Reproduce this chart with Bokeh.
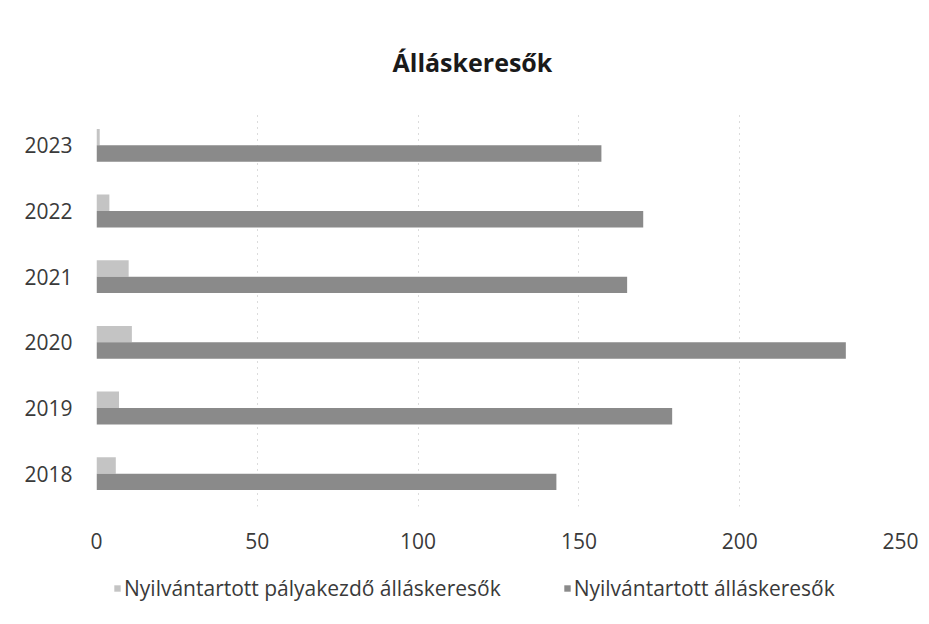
from bokeh.plotting import figure
from bokeh.layouts import column
from bokeh.models import FactorRange, Range1d, Legend, LegendItem, Title, FixedTicker, ColumnDataSource
from bokeh.transform import dodge
from bokeh.embed import file_html
from bokeh.resources import INLINE

years = ["2018", "2019", "2020", "2021", "2022", "2023"]
palyakezdo = [6, 7, 11, 10, 4, 1]
allaskereso = [143, 179, 233, 165, 170, 157]
x_ticks = [0, 50, 100, 150, 200, 250]
series_names = ["Nyilvántartott pályakezdő álláskeresők", "Nyilvántartott álláskeresők"]
title_text = "Álláskeresők"

FONT = "Open Sans"
TXT = "#3a3a3a"
PALE = "#c4c4c4"
DARK = "#8a8a8a"

src = ColumnDataSource(dict(year=years, pale=palyakezdo, main=allaskereso))

p = figure(width=921, height=558, output_backend="svg", toolbar_location=None,
           y_range=FactorRange(factors=years, range_padding=0),
           x_range=Range1d(0, 250),
           min_border_left=96, min_border_right=21, min_border_top=112, min_border_bottom=52)

p.title = Title(text=title_text, align="left", offset=296, text_font=FONT, text_font_size="25px",
                text_font_style="bold", text_color="#1a1a1a", standoff=68)

p.hbar(y=dodge("year", 0.125, range=p.y_range), right="pale", left=0, height=0.25,
       source=src, fill_color=PALE, line_color=None)
p.hbar(y=dodge("year", -0.125, range=p.y_range), right="main", left=0, height=0.25,
       source=src, fill_color=DARK, line_color=None)

p.xaxis.ticker = FixedTicker(ticks=x_ticks)
for ax in (p.xaxis[0], p.yaxis[0]):
    ax.axis_line_color = None
    ax.major_tick_line_color = None
    ax.minor_tick_line_color = None
    ax.major_label_text_font = FONT
    ax.major_label_text_font_size = "21px"
    ax.major_label_text_color = TXT
p.xaxis.major_label_standoff = 20
p.yaxis.major_label_standoff = 18

p.ygrid.grid_line_color = None
p.xgrid.grid_line_color = "#b8b8b8"
p.xgrid.grid_line_dash = "1 5"
p.xgrid.grid_line_width = 1
p.outline_line_color = None

# legend strip: its own figure; its renderers are hidden so only the legend shows
q = figure(width=921, height=55, output_backend="svg", toolbar_location=None,
           x_range=Range1d(0, 250), y_range=FactorRange(factors=years),
           x_axis_location=None, y_axis_location=None,
           min_border_left=0, min_border_right=0, min_border_top=0, min_border_bottom=0)
q.grid.visible = False
q.outline_line_color = None
lp = q.hbar(y="year", right="pale", left=0, height=0.25, source=src, fill_color=PALE, line_color=None)
lm = q.hbar(y="year", right="main", left=0, height=0.25, source=src, fill_color=DARK, line_color=None)
lp.visible = False
lm.visible = False

legend = Legend(items=[LegendItem(label=series_names[0], renderers=[lp]),
                       LegendItem(label=series_names[1], renderers=[lm])],
                orientation="horizontal", location=(17, 11),
                label_text_font=FONT, label_text_font_size="21px", label_text_color=TXT,
                glyph_width=8, glyph_height=8, label_standoff=3, spacing=62,
                border_line_color=None, background_fill_alpha=0, margin=0, padding=4,
                inactive_fill_alpha=0)
q.add_layout(legend, "center")

layout = column(p, q, spacing=0)
open("out.html", "w").write(file_html(layout, INLINE))
